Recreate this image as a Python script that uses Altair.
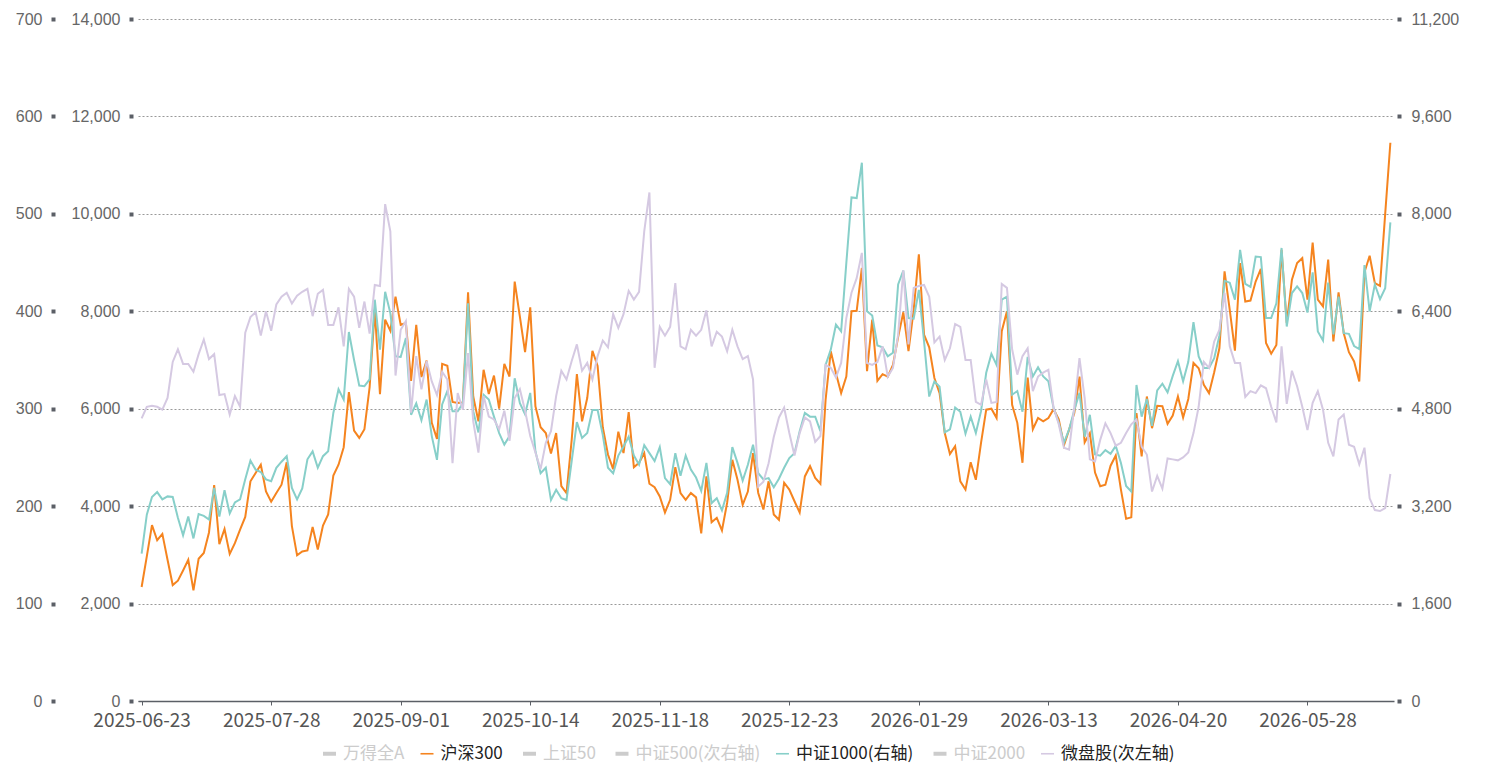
import altair as alt
import pandas as pd

# ---- series (one value per trading day) ----
hs300 = [
    2340, 2970, 3610, 3300, 3430, 2900, 2380, 2470, 2680, 2900,
    2270, 2920, 3040, 3460, 4430, 3220, 3530, 3020, 3240, 3520,
    3780, 4510, 4680, 4850, 4300, 4090, 4270, 4440, 4900, 3590,
    2990, 3070, 3090, 3570, 3110, 3600, 3830, 4630, 4850, 5210,
    6340, 5550, 5400, 5580, 6440, 8030, 6300, 7830, 7600, 8300,
    7720, 7760, 6570, 7720, 6650, 6990, 5710, 5380, 6920, 6880,
    6140, 6120, 6130, 8390, 6250, 5740, 6800, 6300, 6680, 6000,
    6920, 6660, 8610, 7890, 7160, 8080, 6050, 5620, 5500, 5080,
    5500, 4410, 4270, 5360, 6710, 5740, 6220, 7190, 6880, 5620,
    5060, 4760, 5530, 5090, 5930, 4800, 4890, 5090, 4460, 4390,
    4200, 3870, 4130, 4800, 4270, 4130, 4270, 4180, 3440, 4610,
    3670, 3760, 3500, 4070, 4950, 4540, 4030, 4300, 5090, 4270,
    3930, 4510, 3830, 3720, 4480, 4340, 4100, 3870, 4610, 4820,
    4580, 4460, 6180, 7180, 6730, 6320, 6660, 8000, 8010, 8890,
    6770, 7830, 6570, 6710, 6660, 6900, 7470, 7980, 7180, 8030,
    9170, 7520, 7260, 6630, 6320, 5500, 5070, 5230, 4510, 4340,
    4900, 4540, 5300, 5980, 6000, 5810, 7590, 8000, 6080, 5710,
    4890, 6640, 5580, 5810, 5740, 5810, 5990, 5780, 5250, 5570,
    5910, 6660, 5310, 5500, 4690, 4410, 4440, 4830, 5040, 4340,
    3740, 3770, 5910, 5020, 6250, 5600, 6060, 6050, 5690, 5860,
    6250, 5820, 6200, 6940, 6830, 6490, 6320, 6750, 7240, 8820,
    8030, 7190, 8990, 8200, 8220, 8610, 8870, 7350, 7130, 7310,
    9260, 7760, 8650, 8990, 9090, 8240, 9410, 8240, 8100, 9060,
    7380, 8390, 7550, 7160, 6970, 6560, 8800, 9140, 8580, 8520,
    10000, 11460,
]

zz1000 = [
    2420, 3060, 3350, 3430, 3310, 3360, 3350, 3010, 2720, 3030,
    2670, 3070, 3040, 2980, 3500, 3030, 3460, 3080, 3260, 3310,
    3640, 3950, 3800, 3760, 3640, 3610, 3830, 3930, 4020, 3500,
    3310, 3490, 3970, 4100, 3830, 4020, 4100, 4730, 5120, 4950,
    6060, 5600, 5180, 5170, 5280, 6590, 5770, 6720, 6370, 5660,
    5650, 5960, 4700, 4890, 4610, 4950, 4350, 3960, 4870, 5090,
    4760, 4760, 4890, 6530, 4760, 4410, 5030, 4950, 4670, 4400,
    4210, 4350, 5300, 4890, 4710, 5060, 4100, 3740, 3830, 3300,
    3470, 3330, 3300, 3940, 4580, 4320, 4400, 4780, 4780, 4370,
    3830, 3740, 4030, 4180, 4340, 4030, 3880, 4200, 4070, 3940,
    4170, 3660, 3560, 4070, 3700, 4030, 3800, 3670, 3450, 3910,
    3250, 3330, 3130, 3420, 4170, 3910, 3620, 3880, 4210, 3740,
    3640, 3660, 3510, 3650, 3830, 3990, 4070, 4430, 4730, 4670,
    4670, 4430, 5520, 5770, 6180, 6070, 7190, 8270, 8260, 8840,
    6400, 6330, 5840, 5810, 5660, 5720, 6840, 7070, 6290, 6280,
    6750, 5910, 5000, 5250, 5160, 4410, 4460, 4820, 4750, 4390,
    4670, 4400, 4760, 5390, 5700, 5520, 6590, 6640, 5030, 5090,
    4750, 5650, 5330, 5480, 5330, 5250, 4810, 4570, 4240, 4460,
    4780, 5060, 4340, 4700, 4050, 4030, 4120, 4060, 4190, 3910,
    3530, 3440, 5190, 4670, 4960, 4520, 5100, 5210, 5070, 5340,
    5580, 5250, 5570, 6220, 5660, 5470, 5470, 5630, 6000, 6900,
    6870, 6590, 7410, 6850, 6800, 7300, 7290, 6290, 6290, 6530,
    7440, 6150, 6700, 6810, 6700, 6380, 7040, 6070, 5920, 6870,
    6020, 6640, 6040, 6030, 5830, 5780, 7160, 6400, 6840, 6600,
    6780, 7860,
]

microcap = [
    290, 302, 303, 302, 299, 311, 348, 361, 346, 346,
    338, 356, 371, 351, 356, 314, 315, 294, 313, 302,
    378, 394, 399, 375, 400, 380, 407, 415, 419, 408,
    416, 420, 423, 395, 418, 422, 386, 386, 404, 364,
    423, 415, 383, 410, 377, 427, 426, 510, 482, 334,
    381, 390, 296, 354, 320, 349, 328, 314, 338, 330,
    244, 316, 299, 357, 287, 255, 313, 292, 289, 279,
    298, 267, 311, 320, 298, 272, 255, 238, 265, 277,
    313, 339, 330, 349, 366, 339, 347, 330, 354, 370,
    363, 397, 383, 397, 421, 412, 420, 482, 522, 342,
    384, 375, 384, 429, 364, 361, 381, 375, 381, 401,
    364, 379, 374, 359, 381, 364, 351, 354, 330, 220,
    225, 244, 271, 291, 301, 275, 252, 275, 291, 287,
    266, 272, 345, 342, 332, 347, 393, 419, 434, 460,
    347, 345, 348, 364, 333, 342, 376, 442, 366, 424,
    426, 427, 415, 368, 374, 350, 362, 387, 384, 350,
    350, 307, 304, 330, 306, 307, 428, 424, 361, 335,
    354, 362, 318, 333, 337, 340, 301, 284, 260, 258,
    302, 352, 311, 248, 246, 268, 285, 275, 262, 265,
    275, 284, 289, 261, 253, 215, 231, 218, 249, 248,
    247, 250, 255, 275, 302, 348, 342, 369, 381, 419,
    364, 347, 347, 312, 318, 316, 324, 321, 302, 286,
    364, 305, 339, 323, 302, 278, 306, 318, 299, 265,
    251, 289, 294, 263, 261, 243, 260, 208, 196, 195,
    198, 233,
]

# ---- trading calendar (weekdays minus exchange holidays) ----
holidays = [
    "2025-10-01", "2025-10-02", "2025-10-03", "2025-10-06", "2025-10-07", "2025-10-08",
    "2026-01-01", "2026-01-02",
    "2026-02-16", "2026-02-17", "2026-02-18", "2026-02-19", "2026-02-20", "2026-02-23",
    "2026-04-06", "2026-05-01", "2026-05-04", "2026-05-05", "2026-06-19",
]
all_days = [d.strftime("%Y-%m-%d") for d in pd.bdate_range("2025-06-23", "2026-08-31")]
dates = [d for d in all_days if d not in holidays][: len(hs300)]
tick_dates = dates[::25]

legend_names = ["万得全A", "沪深300", "上证50", "中证500(次右轴)", "中证1000(右轴)", "中证2000", "微盘股(次左轴)"]
legend_colors = ["#cccccc", "#f5841f", "#cccccc", "#cccccc", "#87cfc9", "#cccccc", "#d5c9e2"]
active = ["沪深300", "中证1000(右轴)", "微盘股(次左轴)"]

df = pd.DataFrame({"日期": dates, "沪深300": hs300, "中证1000": zz1000, "微盘股": microcap})

TICK = "#5b5f66"
LABEL = "#666666"
NUM_FONT = "Liberation Sans"
CJK_FONT = "Noto Sans CJK SC"

active_test = " || ".join(f"datum.label == '{n}'" for n in active)
color_scale = alt.Scale(domain=legend_names, range=legend_colors)
legend = alt.Legend(
    orient="none", legendX=183, legendY=726, direction="horizontal", title=None,
    symbolType="stroke", symbolSize=169,
    symbolStrokeWidth=alt.ExprRef(expr=f"({active_test}) ? 1.6 : 4"),
    labelColor=alt.ExprRef(expr=f"({active_test}) ? '#222222' : '#cccccc'"),
    labelFont=CJK_FONT, labelFontSize=17, labelOffset=5,
    columnPadding=11.5, padding=0,
)

x_enc = alt.X(
    "日期:O", sort=None, title=None,
    scale=alt.Scale(type="point", padding=0.7),
    axis=alt.Axis(
        values=tick_dates, labelAngle=0, labelOverlap=False, grid=False,
        domainColor=TICK, domainWidth=1.5, tickColor=TICK, tickSize=4, tickWidth=1,
        labelFont=CJK_FONT, labelFontSize=19, labelColor="#555555", labelPadding=6,
    ),
)


def y_axis(orient, offset, values, grid=False, pad=9):
    return alt.Axis(
        orient=orient, offset=offset, values=values, format=",d", title=None,
        domain=False, tickSize=4, tickWidth=4, tickColor=TICK,
        labelPadding=pad, labelFont=NUM_FONT, labelFontSize=16, labelColor=LABEL,
        grid=grid, gridColor="#999999", gridDash=[2, 2], gridWidth=1,
    )


def series_line(field, name, domain_max, axis):
    return (
        alt.Chart(df)
        .transform_calculate(series=f"'{name}'")
        .mark_line(strokeWidth=2)
        .encode(
            x=x_enc,
            y=alt.Y(f"{field}:Q", scale=alt.Scale(domain=[0, domain_max], nice=False), axis=axis),
            color=alt.Color("series:N", scale=color_scale, legend=legend),
        )
    )


hs_line = series_line("沪深300", "沪深300", 14000,
                      y_axis("left", 5, list(range(0, 14001, 2000)), grid=True))
zz_line = series_line("中证1000", "中证1000(右轴)", 11200,
                      y_axis("right", 3, list(range(0, 11201, 1600)), pad=10))
wp_line = series_line("微盘股", "微盘股(次左轴)", 700,
                      y_axis("left", 83, list(range(0, 701, 100))))

chart = (
    alt.layer(hs_line, zz_line, wp_line)
    .resolve_scale(y="independent")
    .properties(
        width=1256, height=682,
        autosize=alt.AutoSizeParams(type="none"),
        padding={"left": 138, "top": 19, "right": 96, "bottom": 70},
        background="white",
    )
    .configure_view(stroke=None)
)

chart.save("out.html", embed_options={"renderer": "svg", "actions": False})
